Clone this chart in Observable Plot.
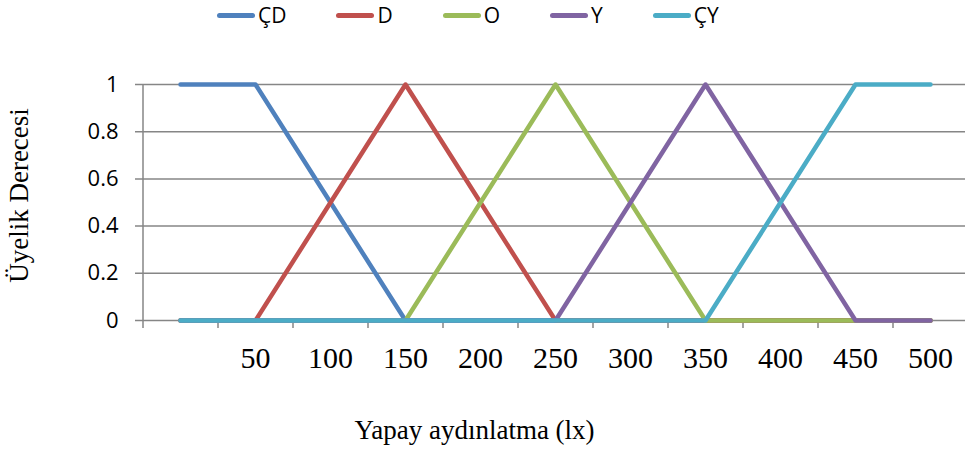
<!DOCTYPE html>
<html><head><meta charset="utf-8">
<script src="https://cdn.jsdelivr.net/npm/d3@7"></script>
<script src="https://cdn.jsdelivr.net/npm/@observablehq/plot@0.6"></script>
<style>
body{margin:0;background:#fff;width:965px;height:452px;overflow:hidden}
#legend{height:30px;display:flex;align-items:center;padding-left:217px;gap:50px;font-family:"Liberation Sans Narrow","Open Sans",sans-serif;font-size:21px;color:#000}
.item{display:flex;align-items:center;gap:3px}
.sw{width:38px;height:5px;border-radius:3px}
</style></head><body><div id="legend"></div><div id="chart"></div>
<script>
const seriesNames = ["ÇD", "D", "O", "Y", "ÇY"];
const colors = ["#4F81BD", "#C0504D", "#9BBB59", "#8064A2", "#4BACC6"];
const xs = [0, 50, 100, 150, 200, 250, 300, 350, 400, 450, 500];
const CD = [1, 1, 0.5, 0, 0, 0, 0, 0, 0, 0, 0];
const D  = [0, 0, 0.5, 1, 0.5, 0, 0, 0, 0, 0, 0];
const O  = [0, 0, 0, 0, 0.5, 1, 0.5, 0, 0, 0, 0];
const Y  = [0, 0, 0, 0, 0, 0, 0.5, 1, 0.5, 0, 0];
const CY = [0, 0, 0, 0, 0, 0, 0, 0, 0.5, 1, 1];
const xLabels = [50, 100, 150, 200, 250, 300, 350, 400, 450, 500];
const yTicks = [0, 0.2, 0.4, 0.6, 0.8, 1];
const xTickPos = [-25, 25, 75, 125, 175, 225, 275, 325, 375, 425, 475];
const xTitle = "Yapay aydınlatma (lx)";
const yTitle = "Üyelik Derecesi";

const seriesValues = [CD, D, O, Y, CY];
const table = seriesNames.flatMap((s, i) => xs.map((x, j) => ({s, x, y: seriesValues[i][j]})));

// legend
const legend = document.getElementById("legend");
seriesNames.forEach((s, i) => {
  const it = document.createElement("div"); it.className = "item";
  const sw = document.createElement("div"); sw.className = "sw"; sw.style.background = colors[i];
  const tx = document.createElement("span"); tx.textContent = s;
  it.append(sw, tx); legend.append(it);
});

const gray = "#868686";
const chart = Plot.plot({
  width: 965, height: 422,
  marginTop: 54, marginBottom: 132, marginLeft: 135, marginRight: 0,
  style: {fontFamily: "'Open Sans', sans-serif", fontSize: "22px", color: "#000", background: "#fff"},
  x: {domain: [-25, 525], range: [142.5, 967.5], axis: null},
  y: {domain: [0, 1], ticks: yTicks, tickSize: 0, tickPadding: 17, tickFormat: d => String(d), label: null},
  color: {domain: seriesNames, range: colors},
  marks: [
    Plot.ruleY(yTicks, {stroke: gray, strokeWidth: 1.5}),
    Plot.ruleX([-25], {y1: 0, y2: 1, stroke: gray, strokeWidth: 1.5}),
    Plot.ruleX(xTickPos, {y1: 0, y2: 0, insetBottom: -8, stroke: gray, strokeWidth: 1.5}),
    Plot.line(table, {x: "x", y: "y", z: "s", stroke: "s", strokeWidth: 4.5, strokeLinecap: "round", strokeLinejoin: "round"}),
    Plot.text(xLabels, {x: d => d, y: d => 0, dy: 38, fontFamily: "'Liberation Serif', serif", fontSize: 30, fill: "#000"}),
    Plot.text([yTitle], {frameAnchor: "left", textAnchor: "middle", rotate: -90, dx: -116, dy: -7, lineAnchor: "middle", fontFamily: "'Liberation Serif', serif", fontSize: 27, fill: "#000"}),
    Plot.text([xTitle], {frameAnchor: "bottom", textAnchor: "middle", dx: -76, dy: 110, lineAnchor: "middle", fontFamily: "'Liberation Serif', serif", fontSize: 27, fill: "#000"})
  ]
});
document.getElementById("chart").append(chart);
</script>
</body></html>
